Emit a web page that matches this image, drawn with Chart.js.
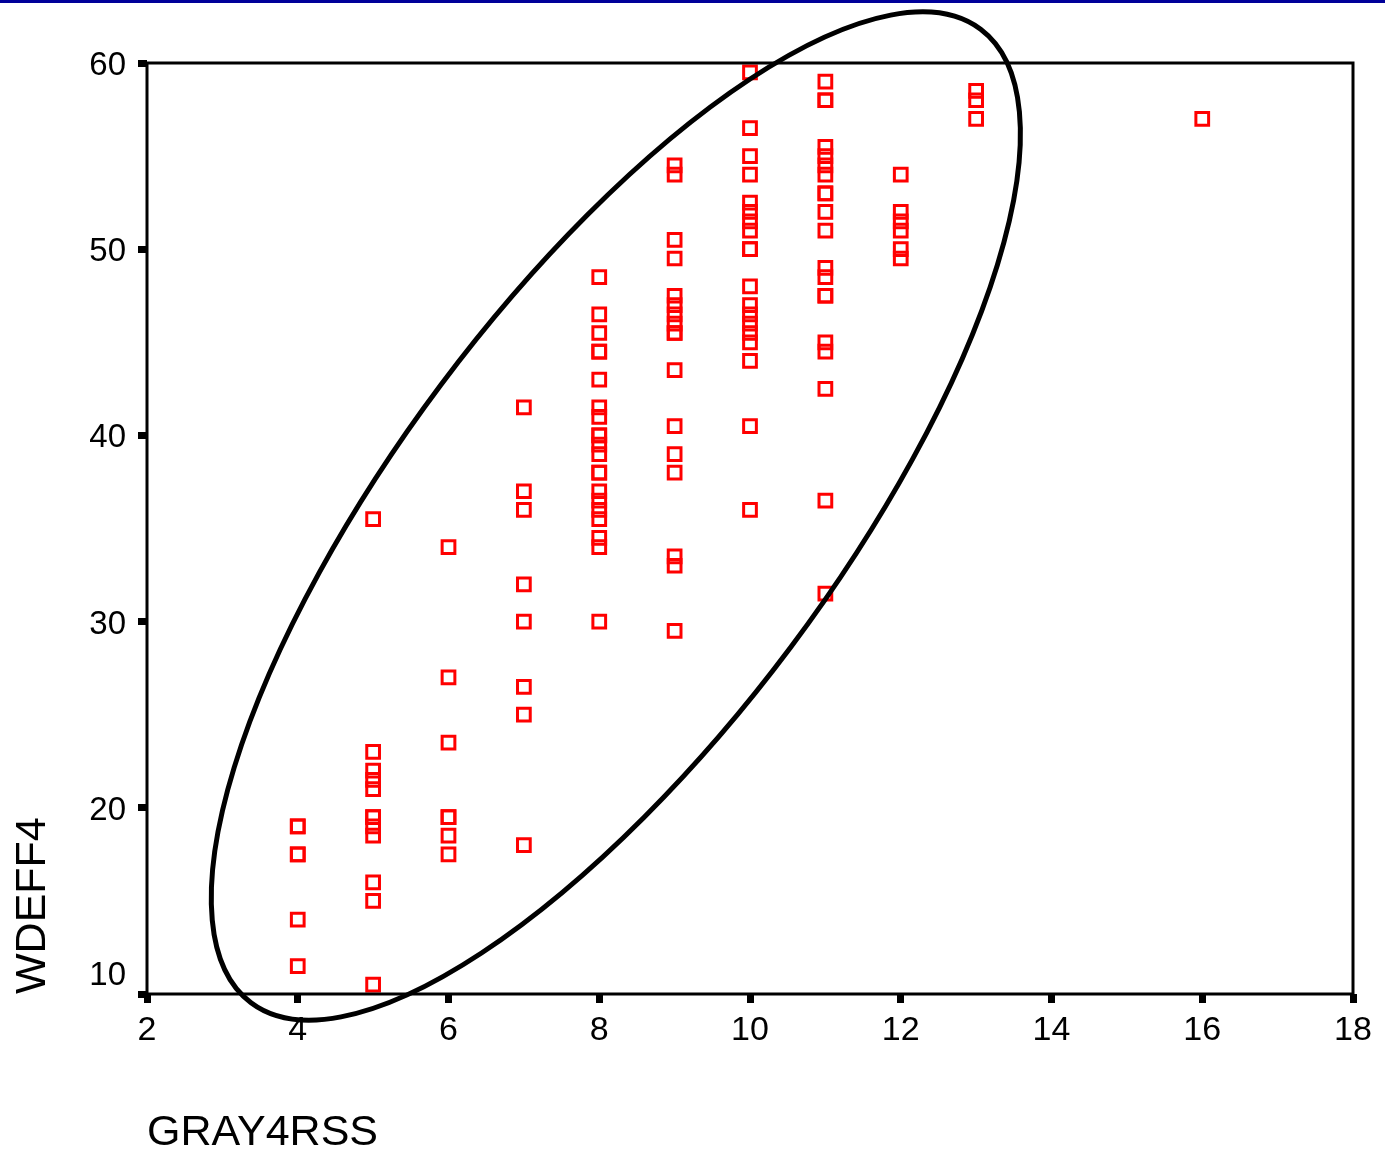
<!DOCTYPE html>
<html>
<head>
<meta charset="utf-8">
<script src="https://cdn.jsdelivr.net/npm/chart.js@4.4.1/dist/chart.umd.min.js"></script>
<style>
  html, body { margin: 0; padding: 0; background: #fff; }
  #wrap { width: 1385px; height: 1159px; }
</style>
</head>
<body>
<div id="wrap"><canvas id="chart" width="1385" height="1159"></canvas></div>
<script>
// GRAY4RSS columns and the WDEFF4 values read in each column
const gray4rss = [4, 5, 6, 7, 8, 9, 10, 11, 12, 13, 16];
const wdeff4At4  = [19, 19, 17.5, 17.5, 14, 11.5];
const wdeff4At5  = [35.5, 23, 22, 21.5, 21, 19.5, 19.5, 19, 18.5, 16, 15, 10.5];
const wdeff4At6  = [34, 27, 23.5, 19.5, 19.5, 18.5, 17.5];
const wdeff4At7  = [41.5, 37, 36, 32, 30, 26.5, 25, 18];
const wdeff4At8  = [48.5, 46.5, 45.5, 44.5, 44.5, 43, 41.5, 41, 40, 40, 39.5, 39, 38, 38, 37, 36.5, 36, 35.5, 34.5, 34, 30];
const wdeff4At9  = [54.5, 54, 50.5, 49.5, 47.5, 47, 46.5, 46, 45.5, 45.5, 43.5, 40.5, 39, 38, 33.5, 33, 29.5];
const wdeff4At10 = [59.5, 56.5, 55, 54, 52.5, 52, 51.5, 51, 50, 50, 48, 47, 46.5, 46, 45.5, 45, 44, 40.5, 36];
const wdeff4At11 = [59, 58, 58, 55.5, 55, 54.5, 54, 53, 53, 52, 51, 49, 48.5, 47.5, 47.5, 45, 44.5, 42.5, 36.5, 31.5];
const wdeff4At12 = [54, 52, 51.5, 51, 50, 49.5];
const wdeff4At13 = [58.5, 58, 57];
const wdeff4At16 = [57];
const wdeff4 = [wdeff4At4, wdeff4At5, wdeff4At6, wdeff4At7, wdeff4At8, wdeff4At9,
                wdeff4At10, wdeff4At11, wdeff4At12, wdeff4At13, wdeff4At16];

const xTicks = [2, 4, 6, 8, 10, 12, 14, 16, 18];
const yTicks = [10, 20, 30, 40, 50, 60];

// hand-drawn ellipse: centre and two conjugate half-axes, in data units
const ellipseCenter = [8.22, 35.67];
const ellipseAxisU  = [4.84, 26.14];
const ellipseAxisV  = [-2.32, 7.05];

const FONT = '"Liberation Sans", Arial, sans-serif';

const points = [];
gray4rss.forEach((gx, i) => wdeff4[i].forEach(v => points.push({ x: gx, y: v })));

const decor = {
  id: 'decor',
  beforeDraw(chart) {
    const { ctx, width } = chart;
    ctx.save();
    ctx.fillStyle = '#fff';
    ctx.fillRect(0, 0, width, chart.height);
    ctx.fillStyle = '#000099';
    ctx.fillRect(0, 0, width, 3);
    ctx.restore();
  },
  afterDraw(chart) {
    const { ctx, chartArea: a, scales: { x, y } } = chart;
    ctx.save();
    // frame
    ctx.strokeStyle = '#000';
    ctx.lineWidth = 3;
    ctx.strokeRect(a.left, a.top, a.right - a.left, a.bottom - a.top);

    // y tick labels (the bottom one sits above its tick)
    ctx.fillStyle = '#000';
    ctx.font = '33px ' + FONT;
    ctx.textAlign = 'right';
    ctx.textBaseline = 'middle';
    yTicks.forEach(v => {
      const py = Math.min(y.getPixelForValue(v) + 3, a.bottom - 18);
      ctx.fillText(String(v), a.left - 21, py);
    });

    // ellipse
    const cx = x.getPixelForValue(ellipseCenter[0]);
    const cy = y.getPixelForValue(ellipseCenter[1]);
    const ux = x.getPixelForValue(ellipseCenter[0] + ellipseAxisU[0]) - cx;
    const uy = y.getPixelForValue(ellipseCenter[1] + ellipseAxisU[1]) - cy;
    const vx = x.getPixelForValue(ellipseCenter[0] + ellipseAxisV[0]) - cx;
    const vy = y.getPixelForValue(ellipseCenter[1] + ellipseAxisV[1]) - cy;
    ctx.beginPath();
    ctx.save();
    ctx.transform(ux, uy, vx, vy, cx, cy);
    ctx.arc(0, 0, 1, 0, Math.PI * 2);
    ctx.restore();
    ctx.lineWidth = 5;
    ctx.strokeStyle = '#000';
    ctx.stroke();
    ctx.restore();
  }
};

new Chart(document.getElementById('chart'), {
  type: 'scatter',
  data: {
    datasets: [{
      label: 'WDEFF4',
      data: points,
      pointStyle: 'rect',
      pointRadius: 9,
      pointHoverRadius: 9,
      borderWidth: 3,
      borderColor: '#ff0000',
      backgroundColor: 'rgba(0,0,0,0)',
    }],
  },
  options: {
    responsive: false,
    animation: false,
    events: [],
    layout: { padding: { top: 63, right: 32, bottom: 0, left: 0 } },
    plugins: { legend: { display: false }, tooltip: { enabled: false } },
    scales: {
      x: {
        type: 'linear', min: 2, max: 18,
        afterBuildTicks: s => { s.ticks = xTicks.map(v => ({ value: v })); },
        afterFit: s => { s.height = 165; },
        grid: { drawOnChartArea: false, drawTicks: true, tickLength: 9, tickWidth: 7, tickColor: '#000' },
        border: { display: false },
        ticks: { color: '#000', padding: 7, font: { family: FONT, size: 34 }, maxRotation: 0 },
        title: {
          display: true, text: 'GRAY4RSS', align: 'start', color: '#000',
          font: { family: FONT, size: 43 }, padding: { top: 0, bottom: 0 },
        },
      },
      y: {
        type: 'linear', min: 10, max: 60,
        afterBuildTicks: s => { s.ticks = yTicks.map(v => ({ value: v })); },
        afterFit: s => { s.width = 147; },
        grid: { drawOnChartArea: false, drawTicks: true, tickLength: 9, tickWidth: 7, tickColor: '#000' },
        border: { display: false },
        ticks: { display: false },
        title: {
          display: true, text: 'WDEFF4', align: 'start', color: '#000',
          font: { family: FONT, size: 43 }, padding: { top: 7, bottom: 0 },
        },
      },
    },
  },
  plugins: [decor],
});
</script>
</body>
</html>
